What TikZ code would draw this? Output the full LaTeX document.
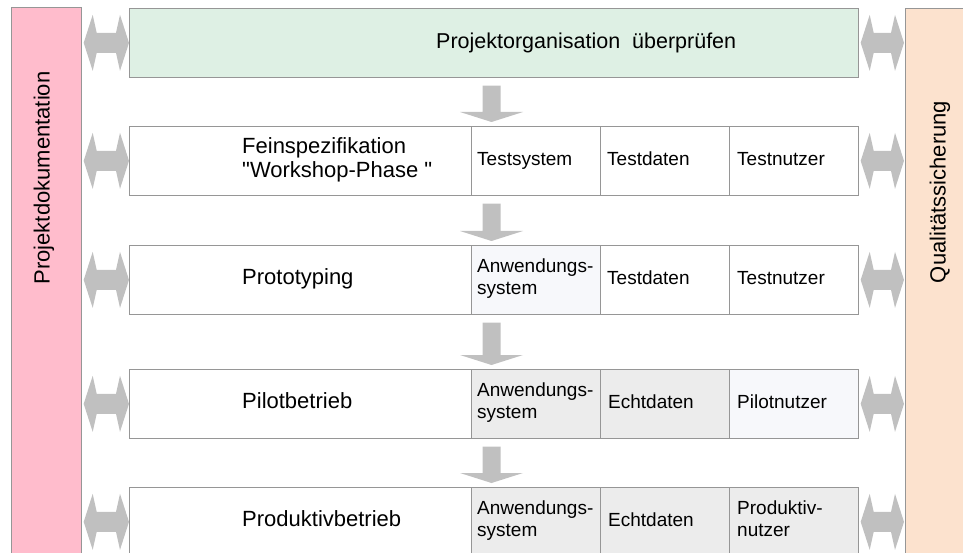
\documentclass[tikz,border=0pt]{standalone}
\usepackage{fontspec}
\setmainfont{Liberation Sans}
\newfontfamily\nolig{Liberation Sans}
\usetikzlibrary{calc}
\definecolor{pinkbar}{RGB}{255,188,204}
\definecolor{peachbar}{RGB}{252,226,206}
\definecolor{greenbox}{RGB}{222,240,228}
\definecolor{arrowgray}{RGB}{192,192,192}
\definecolor{cellgray}{RGB}{236,236,236}
\definecolor{celllight}{RGB}{247,248,251}
\definecolor{bordergray}{RGB}{150,150,150}
\newcommand\dblarrow[2]{%
  \fill[arrowgray] (#1) -- ($(#1)+(9,-28)$) -- ($(#1)+(13,-10)$) -- ($(#2)+(-13,-10)$)
    -- ($(#2)+(-9,-28)$) -- (#2) -- ($(#2)+(-9,28)$) -- ($(#2)+(-13,10)$)
    -- ($(#1)+(13,10)$) -- ($(#1)+(9,28)$) -- cycle;}
\newcommand\dnarrow[2]{%
  \fill[arrowgray] ($(#1)+(-9,0)$) -- ($(#2)+(-9,-10)$) -- ($(#2)+(-31.5,-10)$) -- (#2)
    -- ($(#2)+(31.5,-10)$) -- ($(#2)+(9,-10)$) -- ($(#1)+(9,0)$) -- cycle;}
\newcommand\qq{{\nolig\char34}}
\begin{document}
\begin{tikzpicture}[x=1pt,y=-1pt,
  frame/.style={draw=bordergray, line width=0.7pt},
  sidebar/.style={frame, anchor=north west, minimum width=70pt, minimum height=580pt, inner sep=0pt},
  rowbox/.style={frame, fill=white, anchor=north west, minimum height=69pt, minimum width=342pt, inner sep=0pt},
  cell/.style={frame, anchor=north west, minimum height=69pt, minimum width=129pt, inner sep=0pt},
  celltext/.style={anchor=west, inner sep=0pt, align=left, font=\fontsize{19}{22}\selectfont,
    execute at begin node=\strut, execute at end node=\strut},
  phase/.style={anchor=west, inner sep=0pt, align=left, font=\fontsize{22}{24.5}\selectfont,
    execute at begin node=\strut, execute at end node=\strut},
  sidelabel/.style={rotate=90, inner sep=0pt, font=\fontsize{22}{24}\selectfont}
]
\useasboundingbox (0,0) rectangle (963,553);
\clip (0,0) rectangle (963,553);
% side bars
\node[sidebar, fill=pinkbar] (pl) at (11,7) {};
\node[sidebar, fill=peachbar] (pr) at (905,8) {};
\node[sidelabel] (plt) at (44,178) {Projektdokumentation};
\node[sidelabel] (prt) at (940,192) {Qualitätssicherung};
% top box
\node[frame, fill=greenbox, anchor=north west, minimum width=729pt, minimum height=69pt, inner sep=0pt] (top) at (129,8) {};
\node[phase, font=\fontsize{21.5}{24}\selectfont] (title) at (436,44) {Projektorganisation\hspace{6pt} überprüfen};
% row 1
\node[rowbox] (r1a) at (129,126) {};
\node[cell, fill=white] (r1b) at (471,126) {};
\node[cell, fill=white] (r1c) at (600,126) {};
\node[cell, fill=white] (r1d) at (729,126) {};
\node[phase] (r1t) at (242,161) {Feinspezifikation\\\qq Workshop-Phase \qq};
\node[celltext] (r1bt) at ($(r1b.west)+(6,0)$) {Testsystem};
\node[celltext] (r1ct) at ($(r1c.west)+(7,0)$) {Testdaten};
\node[celltext] (r1dt) at ($(r1d.west)+(8,0)$) {Testnutzer};
% row 2
\node[rowbox] (r2a) at (129,245) {};
\node[cell, fill=celllight] (r2b) at (471,245) {};
\node[cell, fill=white] (r2c) at (600,245) {};
\node[cell, fill=white] (r2d) at (729,245) {};
\node[phase] (r2t) at (242,280) {Prototyping};
\node[celltext] (r2bt) at ($(r2b.west)+(6,0)$) {Anwendungs-\\system};
\node[celltext] (r2ct) at ($(r2c.west)+(7,0)$) {Testdaten};
\node[celltext] (r2dt) at ($(r2d.west)+(8,0)$) {Testnutzer};
% row 3
\node[rowbox] (r3a) at (129,369) {};
\node[cell, fill=cellgray] (r3b) at (471,369) {};
\node[cell, fill=cellgray] (r3c) at (600,369) {};
\node[cell, fill=celllight] (r3d) at (729,369) {};
\node[phase] (r3t) at (242,404) {Pilotbetrieb};
\node[celltext] (r3bt) at ($(r3b.west)+(6,0)$) {Anwendungs-\\system};
\node[celltext] (r3ct) at ($(r3c.west)+(8,0)$) {Echtdaten};
\node[celltext] (r3dt) at ($(r3d.west)+(8,0)$) {Pilotnutzer};
% row 4
\node[rowbox] (r4a) at (129,487) {};
\node[cell, fill=cellgray] (r4b) at (471,487) {};
\node[cell, fill=cellgray] (r4c) at (600,487) {};
\node[cell, fill=cellgray] (r4d) at (729,487) {};
\node[phase] (r4t) at (242,522) {Produktivbetrieb};
\node[celltext] (r4bt) at ($(r4b.west)+(6,0)$) {Anwendungs-\\system};
\node[celltext] (r4ct) at ($(r4c.west)+(8,0)$) {Echtdaten};
\node[celltext] (r4dt) at ($(r4d.west)+(8,0)$) {Produktiv-\\nutzer};
% double arrows left
\foreach \n in {top,r1a,r2a,r3a,r4a}{
  \coordinate (L\n) at ($(pl.east |- \n.west)+(2,0)$);
  \coordinate (R\n) at (\n.west);
  \dblarrow{L\n}{R\n}
}
% double arrows right
\foreach \n/\m in {top/top,r1a/r1d,r2a/r2d,r3a/r3d,r4a/r4d}{
  \coordinate (P\n) at ($(\m.east)+(2,0)$);
  \coordinate (Q\n) at ($(pr.west |- \m.east)+(-1,0)$);
  \dblarrow{P\n}{Q\n}
}
% down arrows
\foreach \a/\b in {top/r1a,r1a/r2a,r2a/r3a,r3a/r4a}{
  \coordinate (S\b) at ($(491.5,0 |- \a.south)+(0,8)$);
  \coordinate (T\b) at ($(491.5,0 |- \b.north)+(0,-4)$);
  \dnarrow{S\b}{T\b}
}
\end{tikzpicture}
\end{document}
